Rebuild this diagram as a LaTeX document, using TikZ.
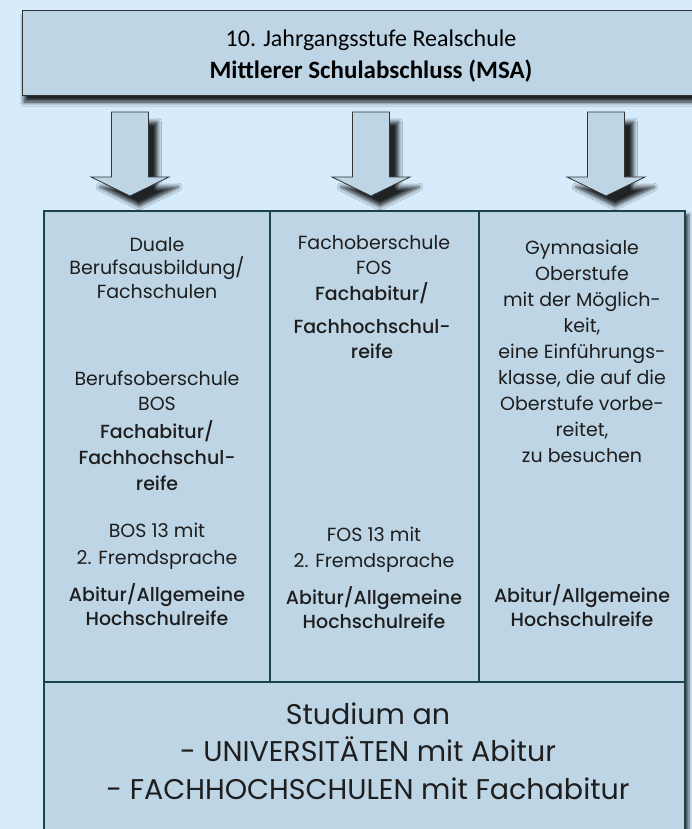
\documentclass[tikz,border=0pt]{standalone}
\usepackage{fontspec}
\setmainfont{Poppins}[BoldFont={Poppins Medium}]
\newfontfamily\headfont{Carlito}
\usetikzlibrary{shadows.blur}

\definecolor{pagebg}{RGB}{214,236,252}
\definecolor{boxfill}{RGB}{190,213,229}
\definecolor{boxline}{RGB}{28,66,78}
\definecolor{txt}{RGB}{30,30,30}

\tikzset{
	colbox/.style={draw=boxline, line width=1.6pt, fill=boxfill},
	headbox/.style={draw=black!80, line width=0.8pt, fill=boxfill,
		blur shadow={shadow xshift=2pt, shadow yshift=-7pt, shadow opacity=85, shadow blur radius=4pt, shadow blur steps=6}},
	downarrow/.style={draw=black!80, line width=0.8pt, fill=boxfill,
		blur shadow={shadow xshift=9pt, shadow yshift=-10pt, shadow opacity=85, shadow blur radius=4pt, shadow blur steps=6}},
	coltext/.style={align=center, text=txt, inner sep=0pt, font=\fontsize{19}{25}\selectfont},
	colbold/.style={coltext, font=\fontsize{19}{24}\selectfont\bfseries},
}

\begin{document}
\begin{tikzpicture}[x=1pt, y=-1pt]
	\useasboundingbox (0,0) rectangle (692,829);
	\fill[pagebg] (0,0) rectangle (692,829);
	% top box
	\draw[headbox] (22,10) rectangle (700,95);
	\node[align=center, inner sep=0pt, font=\headfont\fontsize{24}{32}\selectfont] (msa) at (371,56)
		{10. Jahrgangsstufe Realschule\\\textbf{\fontsize{25}{32}\selectfont Mittlerer Schulabschluss (MSA)}};
	% arrows down
	\foreach \ax in {130, 371, 606}
		\draw[downarrow] (\ax-18.5,112) -- (\ax+18.5,112) -- (\ax+18.5,177) -- (\ax+39,177)
			-- (\ax,196) -- (\ax-39,177) -- (\ax-18.5,177) -- cycle;
	% main box
	\draw[colbox, blur shadow={shadow xshift=4pt, shadow yshift=-3pt, shadow opacity=60, shadow blur steps=6}]
		(44,211) rectangle (685,845);
	\draw[boxline, line width=1.6pt] (270,211) -- (270,682);
	\draw[boxline, line width=1.6pt] (479,211) -- (479,682);
	\draw[boxline, line width=1.6pt] (44,682) -- (685,682);
	% left column
	\node[coltext, font=\fontsize{19}{23.5}\selectfont] (duale) at (157,268) {Duale\\Berufsausbildung/\\Fachschulen};
	\node[coltext] (bos) at (157,391) {Berufsoberschule\\BOS};
	\node[colbold, font=\fontsize{19}{26}\selectfont\bfseries] (bosfach) at (157,456) {Fachabitur/\\Fachhochschul-\\reife};
	\node[coltext, font=\fontsize{19}{27}\selectfont] (bosdrei) at (157,546) {BOS 13 mit\\2. Fremdsprache};
	\node[colbold] (abieins) at (157,605) {Abitur/Allgemeine\\Hochschulreife};
	% middle column
	\node[coltext] (fos) at (374,255) {Fachoberschule\\FOS};
	\node[colbold, font=\fontsize{19}{25}\selectfont\bfseries] (fosfach) at (372,321) {Fachabitur/\\[8pt]Fachhochschul-\\reife};
	\node[coltext, font=\fontsize{19}{26}\selectfont] (fosdrei) at (374,550) {FOS 13 mit\\2. Fremdsprache};
	\node[colbold] (abizwei) at (374,608) {Abitur/Allgemeine\\Hochschulreife};
	% right column
	\node[coltext, font=\fontsize{19}{26}\selectfont] (gym) at (582,351)
		{Gymnasiale\\Oberstufe\\mit der Möglich-\\keit,\\eine Einführungs-\\klasse, die auf die\\Oberstufe vorbe-\\reitet,\\zu besuchen};
	\node[colbold] (abidrei) at (582,606) {Abitur/Allgemeine\\Hochschulreife};
	% bottom row
	\node[coltext, font=\fontsize{28.5}{37.5}\selectfont] (studium) at (368,751)
		{Studium an\\- UNIVERSITÄTEN mit Abitur\\- FACHHOCHSCHULEN mit Fachabitur};
\end{tikzpicture}
\end{document}
